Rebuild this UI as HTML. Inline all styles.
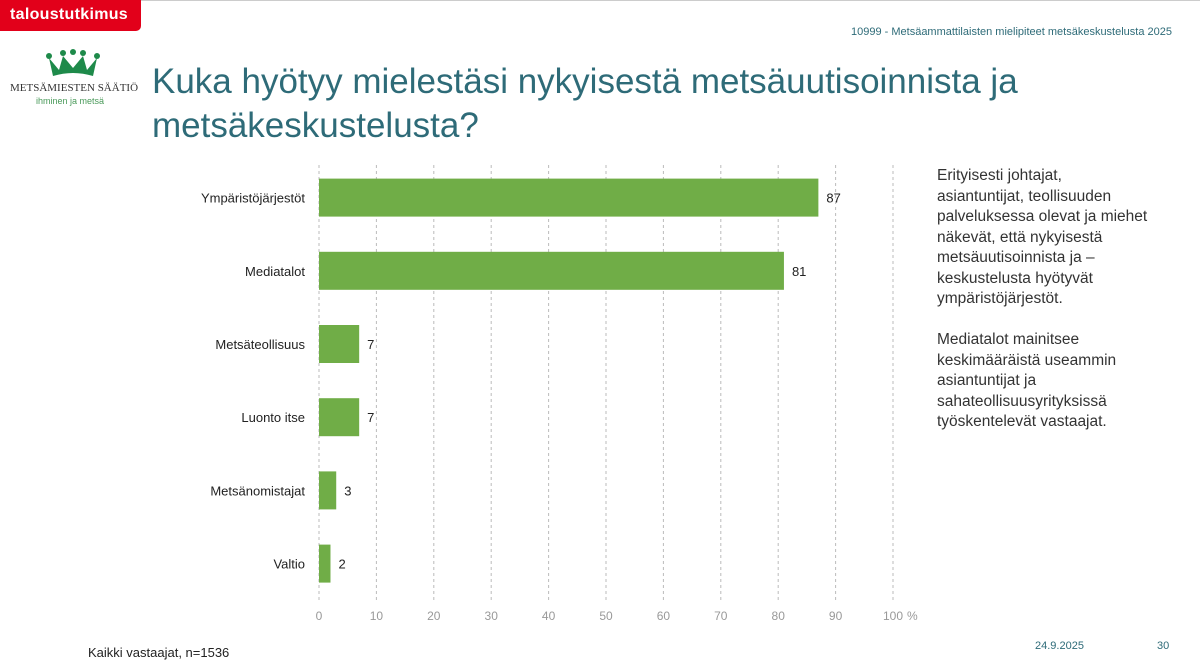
<!DOCTYPE html>
<html><head><meta charset="utf-8"><style>
body{margin:0;width:1200px;height:672px;background:#fff;font-family:"Liberation Sans",sans-serif;position:relative;overflow:hidden}
.abs{position:absolute}
</style></head><body>
<div class="abs" style="left:140px;top:0;width:1060px;height:1px;background:#ccc"></div>
<div class="abs" style="left:0;top:0;width:141px;height:31px;background:#e2001a;border-bottom-right-radius:5px;color:#fff;font-size:16px;font-weight:bold;line-height:30px;padding-left:10px;box-sizing:border-box;letter-spacing:0.3px">taloustutkimus</div>
<div class="abs" style="right:28px;top:26px;font-size:11px;color:#2e6b78">10999 - Metsäammattilaisten mielipiteet metsäkeskustelusta 2025</div>
<svg class="abs" style="left:45px;top:48px" width="56" height="30" viewBox="0 0 56 30">
<path d="M4 10 L14 22 L18 8 L28 20 L38 8 L42 22 L52 10 L48 28 Q28 22 8 28 Z" fill="#1e8a4a"/>
<circle cx="4" cy="8" r="3" fill="#1e8a4a"/><circle cx="18" cy="5" r="3" fill="#1e8a4a"/><circle cx="28" cy="4" r="3" fill="#1e8a4a"/><circle cx="38" cy="5" r="3" fill="#1e8a4a"/><circle cx="52" cy="8" r="3" fill="#1e8a4a"/>
</svg>
<div class="abs" style="left:10px;top:82px;font-size:11px;color:#333;font-family:'Liberation Serif',serif">METSÄMIESTEN SÄÄTIÖ</div>
<div class="abs" style="left:36px;top:96px;font-size:9px;color:#4a9a5a">ihminen ja metsä</div>
<div class="abs" style="left:152px;top:60px;font-size:35px;line-height:44px;color:#2e6b78;width:900px">Kuka hyötyy mielestäsi nykyisestä metsäuutisoinnista ja metsäkeskustelusta?</div>
<svg class="abs" id="chart" style="left:0;top:0" width="1200" height="672"></svg>
<div class="abs" style="left:937px;top:166px;width:215px;font-size:15.5px;line-height:20.5px;color:#333">Erityisesti johtajat, asiantuntijat, teollisuuden palveluksessa olevat ja miehet näkevät, että nykyisestä metsäuutisoinnista ja –keskustelusta hyötyvät ympäristöjärjestöt.<br><br>Mediatalot mainitsee keskimääräistä useammin asiantuntijat ja sahateollisuusyrityksissä työskentelevät vastaajat.</div>
<div class="abs" style="left:88px;top:645px;font-size:13px;color:#222">Kaikki vastaajat, n=1536</div>
<div class="abs" style="left:1035px;top:640px;font-size:11px;color:#2e6b78">24.9.2025</div>
<div class="abs" style="left:1157px;top:640px;font-size:11px;color:#2e6b78">30</div>
<script>
const categories=["Ympäristöjärjestöt","Mediatalot","Metsäteollisuus","Luonto itse","Metsänomistajat","Valtio"];
const values=[87,81,7,7,3,2];
const ticks=[0,10,20,30,40,50,60,70,80,90,100];
const svg=document.getElementById('chart');
const NS='http://www.w3.org/2000/svg';
const x=v=>319+v*5.74;
const y0=161,step=73.2,bh=38;
const yc=i=>y0+step*i+step/2;
function mk(t,a){const e=document.createElementNS(NS,t);for(const k in a)e.setAttribute(k,a[k]);svg.appendChild(e);return e;}
ticks.forEach(t=>{
 const l=mk('line',{x1:x(t),x2:x(t),y1:165,y2:600,stroke:'#bbb','stroke-dasharray':'3,3','stroke-width':1});
 
 
 const tx=mk('text',{x:x(t),y:620,'font-size':12,fill:'#999','text-anchor':'middle','font-family':'Liberation Sans'});
 tx.textContent=t;
 
 
});
const pct=mk('text',{x:x(100)+14,y:620,'font-size':12,fill:'#999','font-family':'Liberation Sans'});
pct.textContent='%';


categories.forEach((c,i)=>{
 const cy=yc(i);
 const r=mk('rect',{x:x(0),y:cy-bh/2,width:x(values[i])-x(0),height:bh,fill:'#70ad47'});
 
 
 const lb=mk('text',{x:305,y:cy+5,'font-size':13,fill:'#222','text-anchor':'end','font-family':'Liberation Sans'});
 lb.textContent=c;
 
 
 const vl=mk('text',{x:x(values[i])+8,y:cy+5,'font-size':13,fill:'#222','font-family':'Liberation Sans'});
 vl.textContent=values[i];
 
 
});
</script>
</body></html>
